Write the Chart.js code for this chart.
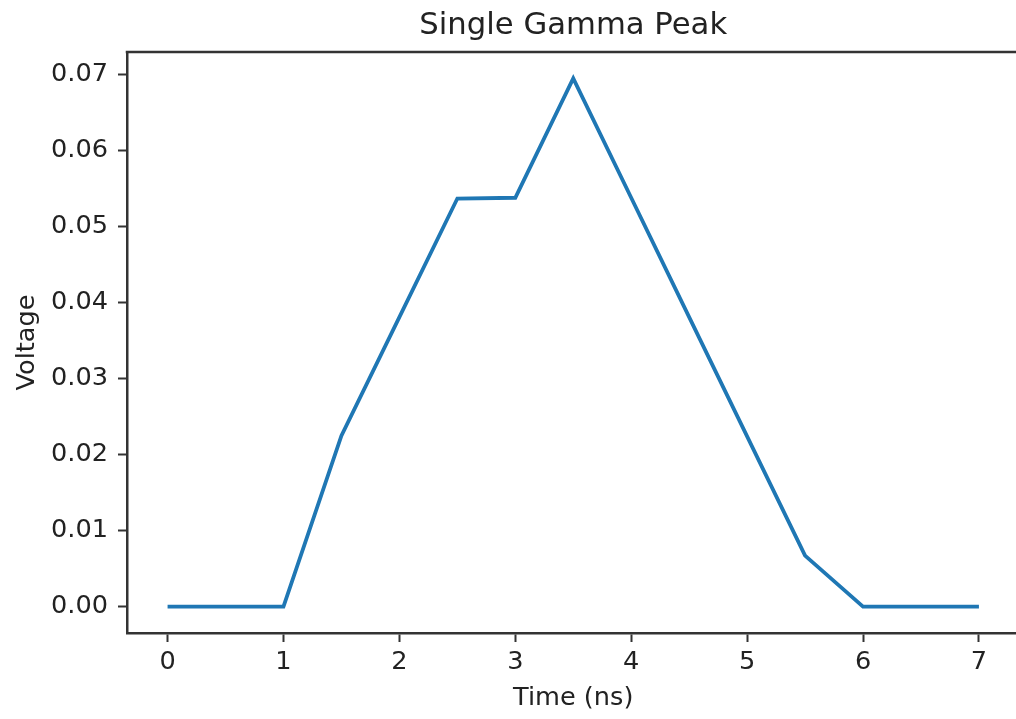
<!DOCTYPE html>
<html>
<head>
<meta charset="utf-8">
<script src="https://cdn.jsdelivr.net/npm/chart.js@4/dist/chart.umd.min.js"></script>
<style>
  html, body { margin: 0; padding: 0; background: #fff; overflow: hidden; }
  #wrap { width: 1060px; height: 719px; }
</style>
</head>
<body>
<div id="wrap"><canvas id="grafico" width="1060" height="719"></canvas></div>
<script>
// dados
const tempoNs = [0, 0.5, 1, 1.5, 2, 2.5, 3, 3.5, 4, 4.5, 5, 5.5, 6, 6.5, 7];
const voltagem = [0, 0, 0, 0.0225, 0.0381, 0.0537, 0.0538, 0.0695, 0.0538, 0.0381, 0.0224, 0.0067, 0, 0, 0];
const ticksX = [0, 1, 2, 3, 4, 5, 6, 7];
const ticksY = [0, 0.01, 0.02, 0.03, 0.04, 0.05, 0.06, 0.07];

const corTexto = '#222';
const corEixo = '#333';
const fonte = "'DejaVu Sans', sans-serif";

// desenha só a borda de cima (o eixo direito fica fora da imagem)
const bordaTopo = {
    id: 'bordaTopo',
    afterDraw(chart) {
        const { ctx, chartArea } = chart;
        ctx.save();
        ctx.strokeStyle = corEixo;
        ctx.lineWidth = 2.5;
        ctx.beginPath();
        ctx.moveTo(chartArea.left - 1.25, chartArea.top);
        ctx.lineTo(chartArea.right, chartArea.top);
        ctx.stroke();
        ctx.restore();
    }
};

const ctx = document.getElementById('grafico').getContext('2d');
new Chart(ctx, {
    type: 'line',
    data: {
        datasets: [{
            data: tempoNs.map((t, i) => ({ x: t, y: voltagem[i] })),
            borderColor: '#1f77b4',
            borderWidth: 3.8,
            pointRadius: 0,
            tension: 0,
            fill: false
        }]
    },
    options: {
        responsive: false,
        animation: false,
        layout: { padding: { left: 0, right: 40.5, top: 0, bottom: 0 } },
        plugins: {
            legend: { display: false },
            tooltip: { enabled: false },
            title: {
                display: true,
                text: 'Single Gamma Peak',
                fullSize: false,
                color: corTexto,
                font: { family: fonte, size: 30.7, weight: 'normal', lineHeight: 1.2 },
                padding: { top: 8, bottom: 7.2 }
            }
        },
        scales: {
            x: {
                type: 'linear',
                min: -0.35,
                max: 7.35,
                afterFit(scale) { scale.height = 86; },
                afterBuildTicks(scale) { scale.ticks = ticksX.map(v => ({ value: v })); },
                ticks: {
                    color: corTexto,
                    font: { family: fonte, size: 25.6 },
                    padding: 5,
                    maxRotation: 0,
                    callback: v => String(v)
                },
                grid: {
                    drawOnChartArea: false,
                    drawTicks: true,
                    tickLength: 9,
                    tickWidth: 2,
                    tickColor: corEixo
                },
                border: { display: true, color: corEixo, width: 2.5 },
                title: {
                    display: true,
                    text: 'Time (ns)',
                    color: corTexto,
                    font: { family: fonte, size: 25.6, lineHeight: 1.2 },
                    padding: { top: 4, bottom: 5.6 }
                }
            },
            y: {
                type: 'linear',
                min: -0.003475,
                max: 0.072975,
                afterFit(scale) { scale.width = 127; },
                afterBuildTicks(scale) { scale.ticks = ticksY.map(v => ({ value: v })); },
                ticks: {
                    color: corTexto,
                    font: { family: fonte, size: 25.6 },
                    padding: 10,
                    callback: v => v.toFixed(2)
                },
                grid: {
                    drawOnChartArea: false,
                    drawTicks: true,
                    tickLength: 9,
                    tickWidth: 2,
                    tickColor: corEixo
                },
                border: { display: true, color: corEixo, width: 2.5 },
                title: {
                    display: true,
                    text: 'Voltage',
                    color: corTexto,
                    font: { family: fonte, size: 25.6, lineHeight: 1.2 },
                    padding: { top: 12, bottom: 0 }
                }
            }
        }
    },
    plugins: [bordaTopo]
});
</script>
</body>
</html>
